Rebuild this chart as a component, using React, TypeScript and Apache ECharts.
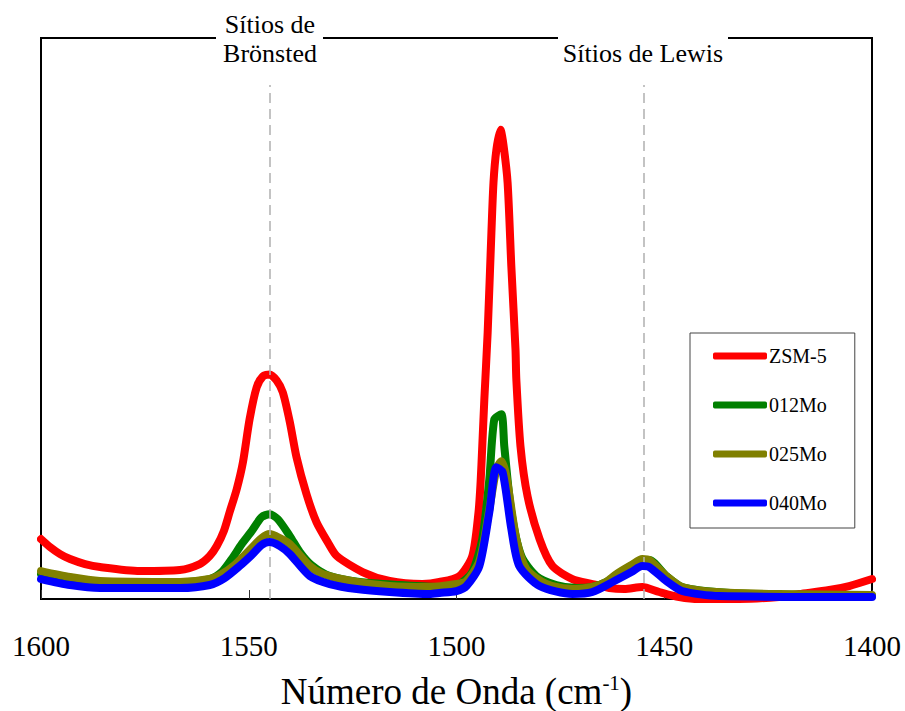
import React, { useEffect, useRef } from "react";
import * as echarts from "echarts";

// Wavenumber (cm^-1), relative absorbance (arbitrary units)
const zsm5: [number, number][] = [
  [1600, 60], [1597.8, 52], [1595.4, 45], [1593.0, 40], [1589.4, 35], [1585.8, 32],
  [1576.2, 28], [1566.6, 29],
  [1561.8, 35], [1559.4, 43], [1557.7, 53], [1556.0, 68], [1554.6, 87], [1552.9, 110],
  [1551.4, 137], [1549.8, 180], [1548.1, 212], [1546.6, 223], [1545.0, 225], [1543.3, 219],
  [1541.8, 207], [1540.1, 177], [1538.5, 142], [1536.1, 105], [1533.7, 77], [1531.0, 57],
  [1528.8, 43], [1522.6, 27], [1516.1, 18], [1508.2, 15], [1504.1, 17], [1499.3, 23], [1496.2, 43],
  [1494.7, 87], [1494.2, 117], [1493.8, 153], [1493.3, 200], [1492.5, 267], [1491.6, 367],
  [1491.1, 417], [1490.4, 450], [1489.4, 470], [1488.7, 455], [1487.7, 417], [1486.8, 333],
  [1485.8, 250], [1485.6, 220], [1484.6, 153], [1482.9, 103], [1480.0, 60], [1476.9, 33],
  [1472.1, 20], [1467.3, 15], [1463.2, 11], [1459.6, 10], [1455.3, 12], [1451.2, 7],
  [1446.4, 2], [1441.6, 0], [1432.0, 0], [1422.4, 2], [1417.5, 5], [1410.3, 9],
  [1405.5, 13], [1400, 20],
];

const mo012: [number, number][] = [
  [1600, 25], [1593.0, 20], [1585.8, 17], [1566.6, 17], [1559.4, 20], [1556.5, 27],
  [1554.1, 40], [1551.7, 55], [1549.3, 68], [1546.9, 82], [1545.0, 85], [1543.0, 80],
  [1540.1, 63], [1537.7, 47], [1534.9, 34], [1530.5, 23], [1523.3, 17], [1513.7, 14],
  [1504.1, 12], [1499.3, 15], [1496.2, 27], [1493.8, 60], [1492.1, 120], [1490.9, 180],
  [1489.2, 185], [1488.5, 153], [1486.8, 87], [1484.4, 43], [1480.8, 23], [1476.0, 14],
  [1471.0, 11], [1467.3, 12], [1464.0, 17], [1460.8, 26], [1457.2, 35], [1455.3, 39],
  [1453.6, 39], [1449.5, 23], [1445.7, 12], [1437.5, 7], [1422.4, 4], [1400, 3],
];

const mo025: [number, number][] = [
  [1600, 28], [1593.0, 22], [1585.8, 18], [1566.6, 17], [1559.4, 20], [1556.5, 25],
  [1553.4, 34], [1549.8, 49], [1546.9, 61], [1545.0, 65], [1542.5, 61], [1540.1, 55],
  [1535.3, 33], [1532.2, 25], [1524.0, 17], [1516.1, 13], [1506.5, 12], [1500, 15],
  [1497.6, 18], [1494.5, 38], [1492.1, 90], [1490.4, 130], [1489.2, 138], [1488.0, 123],
  [1485.6, 60], [1483.2, 30], [1478.4, 15], [1472.1, 10], [1467.3, 12], [1464.0, 17],
  [1461.5, 25], [1457.9, 34], [1455.3, 40], [1453.6, 39], [1449.5, 23], [1445.7, 12],
  [1437.5, 7], [1422.4, 5], [1400, 4],
];

const mo040: [number, number][] = [
  [1600, 20], [1593.0, 14], [1585.8, 11], [1566.6, 11], [1559.4, 14], [1555.8, 21],
  [1552.2, 33], [1549.3, 44], [1546.9, 54], [1545.0, 57], [1542.5, 53], [1540.1, 45],
  [1535.3, 23], [1530.5, 15], [1524.0, 10], [1516.1, 7], [1506.5, 5], [1504.1, 6],
  [1500, 8], [1497.6, 13], [1494.5, 33], [1492.1, 87], [1490.4, 132], [1488.9, 127],
  [1486.8, 70], [1484.9, 33], [1480.0, 13], [1472.1, 5], [1467.3, 7], [1462.0, 18],
  [1457.9, 27], [1455.3, 33], [1453.6, 32], [1449.5, 18], [1445.7, 8], [1436.8, 3],
  [1400, 2],
];

const seriesNames = ["ZSM-5", "012Mo", "025Mo", "040Mo"];
const seriesColors = ["#ff0000", "#008000", "#808000", "#0000ff"];
const seriesData = [zsm5, mo012, mo025, mo040];

const xTicks = [1600, 1550, 1500, 1450, 1400];
const bronstedPos = 1545;
const lewisPos = 1455;
const dashTop = 515;
const yMax = 562;

const FONT = "Liberation Serif";

export default function App() {
  const ref = useRef<HTMLDivElement>(null);
  useEffect(() => {
    document.body.style.margin = "0";
    if (!ref.current) return;
    const chart = echarts.init(ref.current, null, { renderer: "svg" });
    const series: any[] = seriesData.map((d, i) => ({
      name: seriesNames[i],
      type: "line",
      data: d,
      symbol: "none",
      smooth: 0.25,
      lineStyle: { color: seriesColors[i], width: 8, cap: "round", join: "round" },
      itemStyle: { color: seriesColors[i] },
      z: 2 + i,
    }));
    series[0].markLine = {
      silent: true,
      symbol: "none",
      label: { show: false },
      lineStyle: { color: "#b0b0b0", type: [10, 6], width: 1.5 },
      data: [
        [{ coord: [bronstedPos, 0] }, { coord: [bronstedPos, dashTop] }],
        [{ coord: [lewisPos, 0] }, { coord: [lewisPos, dashTop] }],
      ],
    };
    chart.setOption({
      animation: false,
      backgroundColor: "#ffffff",
      textStyle: { fontFamily: FONT },
      grid: {
        left: 41,
        right: 33,
        top: 38,
        bottom: 112,
        containLabel: false,
        outerBoundsMode: "none",
        show: true,
        borderColor: "#000",
        borderWidth: 2,
        backgroundColor: "transparent",
      },
      xAxis: {
        type: "value",
        min: xTicks[xTicks.length - 1],
        max: xTicks[0],
        interval: 50,
        inverse: true,
        axisLine: { show: false },
        axisTick: { show: true, inside: true, length: 9, lineStyle: { color: "#333", width: 1 } },
        splitLine: { show: false },
        axisLabel: {
          fontFamily: FONT,
          fontSize: 29,
          color: "#000",
          margin: 32,
          formatter: (v: number) => String(v),
        },
        name: "Número de Onda (cm{sup|-1})",
        nameLocation: "middle",
        nameGap: 73,
        nameTextStyle: {
          fontFamily: FONT,
          fontSize: 37,
          color: "#000",
          rich: {
            sup: { fontFamily: FONT, fontSize: 21, color: "#000", verticalAlign: "top", padding: [0, 0, 18, 0] },
          },
        },
      },
      yAxis: {
        type: "value",
        min: 0,
        max: yMax,
        show: true,
        axisLine: { show: false },
        axisTick: { show: false },
        axisLabel: { show: false },
        splitLine: { show: false },
      },
      legend: {
        orient: "vertical",
        left: 690,
        top: 333,
        padding: [10, 28, 12, 23],
        itemGap: 23,
        itemWidth: 54,
        itemHeight: 7,
        icon: "roundRect",
        borderColor: "#444",
        borderWidth: 1,
        backgroundColor: "#fff",
        textStyle: { fontFamily: FONT, fontSize: 20, color: "#000", lineHeight: 18, padding: [8, 0, 0, -3] },
        data: seriesNames,
      },
      graphic: [
        { type: "rect", shape: { x: 216, y: 30, width: 107, height: 16 }, style: { fill: "#fff" }, z: 100 },
        { type: "rect", shape: { x: 558, y: 30, width: 170, height: 16 }, style: { fill: "#fff" }, z: 100 },
        {
          type: "text", x: 270, y: 24, z: 101,
          style: { text: "Sítios de", fontFamily: FONT, fontSize: 26, fill: "#000", textAlign: "center", textVerticalAlign: "middle" },
        },
        {
          type: "text", x: 270, y: 53, z: 101,
          style: { text: "Brönsted", fontFamily: FONT, fontSize: 26, fill: "#000", textAlign: "center", textVerticalAlign: "middle" },
        },
        {
          type: "text", x: 643, y: 53, z: 101,
          style: { text: "Sítios de Lewis", fontFamily: FONT, fontSize: 26, fill: "#000", textAlign: "center", textVerticalAlign: "middle" },
        },
      ],
      series,
    });
    return () => chart.dispose();
  }, []);
  return <div ref={ref} style={{ width: 905, height: 711, position: "absolute", left: 0, top: 0 }} />;
}
